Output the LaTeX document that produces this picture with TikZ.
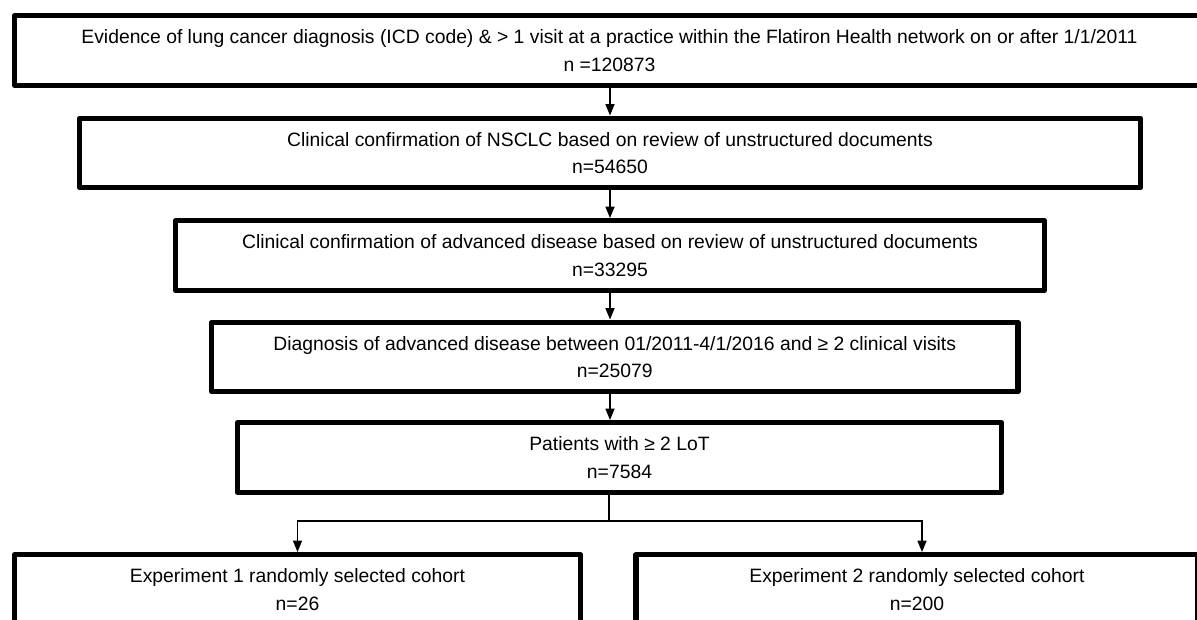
\documentclass[tikz,border=0pt]{standalone}
\usepackage{fontspec}
\setmainfont{Liberation Sans}
\usepackage{xcolor}
\usetikzlibrary{arrows.meta}

\begin{document}
\begin{tikzpicture}[x=0.02cm, y=-0.02cm,
    stage/.style={draw, line width=3pt, line join=round, minimum height=1.39cm,
      inner sep=0pt, align=center, font=\fontsize{11pt}{15.6pt}\selectfont},
    flow/.style={line width=1.1pt, -{Triangle[length=6.5pt, width=5pt]}}]
  % Fix the page size
  \useasboundingbox (0,0) rectangle (1197,619);
  \clip (0,0) rectangle (1197,619);

  % Draw the selection steps
  \node[stage, minimum width=23.8cm] (icd) at (609.5,50.5)
    {Evidence of lung cancer diagnosis (ICD code) \& > 1 visit at a practice within the Flatiron Health network on or after 1/1/2011\\n =120873};
  \node[stage, minimum width=21.22cm] (nsclc) at (610,153)
    {Clinical confirmation of NSCLC based on review of unstructured documents\\n=54650};
  \node[stage, minimum width=17.38cm] (adv) at (610,255.5)
    {Clinical confirmation of advanced disease based on review of unstructured documents\\n=33295};
  \node[stage, minimum width=16.13cm] (diag) at (614.75,357)
    {Diagnosis of advanced disease between 01/2011-4/1/2016 and ≥ 2 clinical visits\\n=25079};
  \node[stage, minimum width=15.28cm] (lot) at (619.5,457.5)
    {Patients with ≥ 2 LoT\\n=7584};

  % Draw the two cohorts
  \node[stage, minimum width=11.32cm] (exp1) at (297.5,589.5)
    {Experiment 1 randomly selected cohort\\n=26};
  \node[stage, minimum width=11.24cm] (exp2) at (917,589.5)
    {Experiment 2 randomly selected cohort\\n=200};

  % Draw arrows between the steps
  \draw[flow] (icd.south -| nsclc.south) -- (nsclc.north);
  \draw[flow] (nsclc.south) -- (adv.north);
  \draw[flow] (adv.south) -- (adv.south |- diag.north);
  \draw[flow] (adv.south |- diag.south) -- (adv.south |- lot.north);

  % Split into the two cohorts
  \coordinate (split) at (609,521);
  \draw[line width=1.1pt] (lot.south -| split) -- (split);
  \draw[flow] (split) -| (exp1.north);
  \draw[flow] (split) -| ([xshift=0.1cm]exp2.north);
\end{tikzpicture}
\end{document}
